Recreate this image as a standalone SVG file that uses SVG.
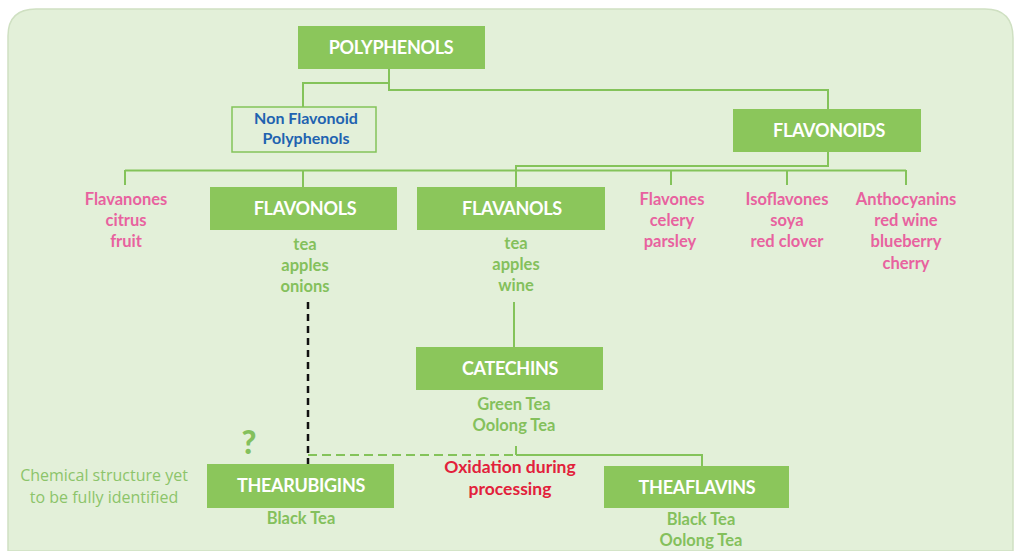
<svg xmlns="http://www.w3.org/2000/svg" width="1015" height="551" viewBox="0 0 1015 551">
<style>
.box{fill:#8bc65b}
.bt{font-family:Lato,"Liberation Sans",sans-serif;font-weight:700;font-size:18px;fill:#ffffff;text-anchor:middle;letter-spacing:-0.3px}
.pk{font-family:Lato,"Liberation Sans",sans-serif;font-weight:700;font-size:16.5px;fill:#e8629f;text-anchor:middle}
.gr{font-family:Lato,"Liberation Sans",sans-serif;font-weight:700;font-size:16.5px;fill:#84c05c;text-anchor:middle}
.ln{stroke:#84c35a;stroke-width:2;fill:none}
</style>
<rect x="0" y="0" width="1015" height="551" fill="#ffffff"/>
<path d="M8,551 L8,36 Q8,9 36,9 L985,9 Q1013,9 1013,38 L1013,551 Z" fill="#e3f0d9" stroke="#cfe0c2" stroke-width="1.5"/>
<g id="connectors">
<polyline class="ln" points="389,69 389,90 828,90 828,109"/>
<polyline class="ln" points="389,83 303,83 303,107"/>
<polyline class="ln" points="828,152 828,166 516,166 516,187"/>
<line class="ln" x1="125" y1="170.5" x2="906" y2="170.5" stroke-width="1.6"/>
<line class="ln" x1="125" y1="170" x2="125" y2="185"/>
<line class="ln" x1="303" y1="170" x2="303" y2="187"/>
<line class="ln" x1="671" y1="170" x2="671" y2="185"/>
<line class="ln" x1="787" y1="170" x2="787" y2="185"/>
<line class="ln" x1="906" y1="170" x2="906" y2="185"/>
<line class="ln" x1="514" y1="302" x2="514" y2="347"/>
<line class="ln" x1="516" y1="446" x2="516" y2="455"/>
<polyline class="ln" points="516,455 702,455 702,466"/>
<line class="ln" x1="308" y1="455" x2="516" y2="455" stroke-dasharray="9,5"/>
<line x1="308" y1="302" x2="308" y2="464" stroke="#111111" stroke-width="2.5" stroke-dasharray="7,5"/>
</g>
<g id="polyphenols">
<rect class="box" x="298" y="26" width="187" height="43"/>
<text class="bt" x="391" y="54">POLYPHENOLS</text>
</g>
<g id="non-flavonoid">
<rect x="232" y="107" width="144" height="45" fill="none" stroke="#84c35a" stroke-width="1.5"/>
<text font-family="Lato,'Liberation Sans',sans-serif" font-weight="700" font-size="16" fill="#1f63b0" text-anchor="middle"><tspan x="306" y="124">Non Flavonoid</tspan><tspan x="306" y="144">Polyphenols</tspan></text>
</g>
<g id="flavonoids">
<rect class="box" x="733" y="109" width="188" height="43"/>
<text class="bt" x="829" y="137">FLAVONOIDS</text>
</g>
<g id="flavanones">
<text class="pk"><tspan x="126" y="205">Flavanones</tspan><tspan x="126" y="226">citrus</tspan><tspan x="126" y="247">fruit</tspan></text>
</g>
<g id="flavonols">
<rect class="box" x="210" y="187" width="187" height="43"/>
<text class="bt" x="305" y="215">FLAVONOLS</text>
<text class="gr"><tspan x="305" y="250">tea</tspan><tspan x="305" y="271">apples</tspan><tspan x="305" y="292">onions</tspan></text>
</g>
<g id="flavanols">
<rect class="box" x="417" y="187" width="188" height="43"/>
<text class="bt" x="512" y="215">FLAVANOLS</text>
<text class="gr"><tspan x="516" y="249">tea</tspan><tspan x="516" y="270">apples</tspan><tspan x="516" y="291">wine</tspan></text>
</g>
<g id="flavones">
<text class="pk"><tspan x="672" y="205">Flavones</tspan><tspan x="672" y="226">celery</tspan><tspan x="670" y="247">parsley</tspan></text>
</g>
<g id="isoflavones">
<text class="pk"><tspan x="787" y="205">Isoflavones</tspan><tspan x="787" y="226">soya</tspan><tspan x="787" y="247">red clover</tspan></text>
</g>
<g id="anthocyanins">
<text class="pk"><tspan x="906" y="205">Anthocyanins</tspan><tspan x="906" y="226">red wine</tspan><tspan x="906" y="247">blueberry</tspan><tspan x="906" y="269">cherry</tspan></text>
</g>
<g id="catechins">
<rect class="box" x="416" y="347" width="187" height="43"/>
<text class="bt" x="510" y="375">CATECHINS</text>
<text class="gr"><tspan x="514" y="410">Green Tea</tspan><tspan x="514" y="431">Oolong Tea</tspan></text>
</g>
<g id="thearubigins">
<rect class="box" x="207" y="464" width="187" height="44"/>
<text class="bt" x="301" y="492">THEARUBIGINS</text>
<text class="gr" x="301" y="524">Black Tea</text>
<text font-family="Lato,'Liberation Sans',sans-serif" font-weight="900" font-size="32" fill="#84c05c" text-anchor="middle" x="249" y="454">?</text>
<text font-family="'Open Sans','Liberation Sans',sans-serif" font-size="16" fill="#8cc46a" text-anchor="middle"><tspan x="104" y="481">Chemical structure yet</tspan><tspan x="104" y="503">to be fully identified</tspan></text>
</g>
<g id="oxidation">
<text font-family="Lato,'Liberation Sans',sans-serif" font-weight="700" font-size="17.5" fill="#e2213b" text-anchor="middle"><tspan x="510" y="473">Oxidation during</tspan><tspan x="510" y="495">processing</tspan></text>
</g>
<g id="theaflavins">
<rect class="box" x="604" y="466" width="185" height="42"/>
<text class="bt" x="697" y="494">THEAFLAVINS</text>
<text class="gr"><tspan x="701" y="525">Black Tea</tspan><tspan x="701" y="546">Oolong Tea</tspan></text>
</g>
</svg>
